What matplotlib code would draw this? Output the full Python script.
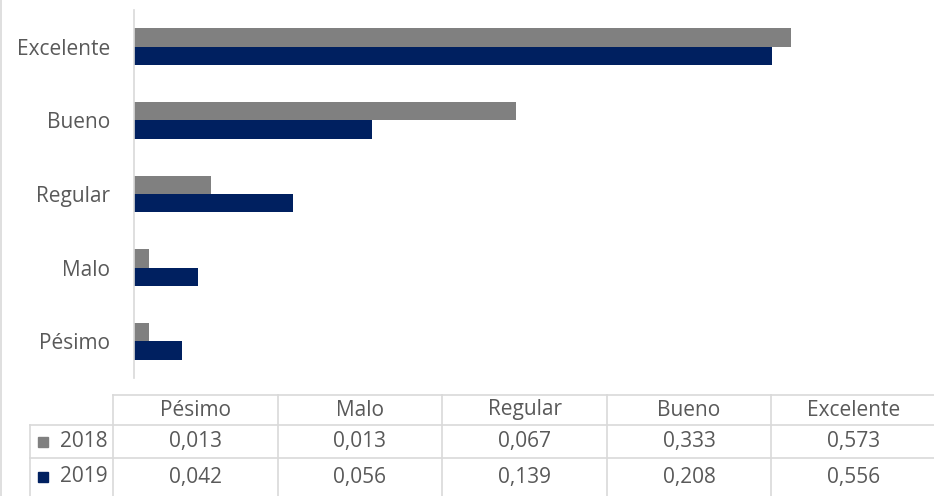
import matplotlib
matplotlib.use("Agg")
import matplotlib.pyplot as plt
from matplotlib.patches import Rectangle

categories = ["Pésimo", "Malo", "Regular", "Bueno", "Excelente"]
series_names = ["2018", "2019"]
values_2018 = [0.013, 0.013, 0.067, 0.333, 0.573]
values_2019 = [0.042, 0.056, 0.139, 0.208, 0.556]
colors = ["#808080", "#002060"]

plt.rcParams['font.family'] = ['Open Sans', 'DejaVu Sans']
TXT = "#595959"
GRID = "#d9d9d9"
FS = 15

W, H = 934, 496
fig = plt.figure(figsize=(W / 100, H / 100), dpi=100)

# main bar axes (pixel layout)
x0, x1, y0, y1 = 134, 934, 10, 378
ax = fig.add_axes([x0 / W, (H - y1) / H, (x1 - x0) / W, (y1 - y0) / H])
bh = 0.25
pos = list(range(len(categories)))
ax.barh([p + bh / 2 for p in pos], values_2018, height=bh, color=colors[0])
ax.barh([p - bh / 2 for p in pos], values_2019, height=bh, color=colors[1])
ax.set_xlim(0, 800 / 1146.6)
ax.set_ylim(-0.5, len(categories) - 0.5)
ax.set_yticks(pos)
ax.set_yticklabels(categories, fontsize=FS, color=TXT)
ax.tick_params(axis='y', length=0, pad=17)
ax.set_xticks([])
for s in ["top", "right", "bottom"]:
    ax.spines[s].set_visible(False)
ax.spines["left"].set_color(GRID)
ax.spines["left"].set_linewidth(1.2)

# data table overlay in pixel coordinates
ov = fig.add_axes([0, 0, 1, 1])
ov.set_xlim(0, W)
ov.set_ylim(H, 0)
ov.axis("off")
ov.patch.set_alpha(0)

col_left = 113
col_w = 164.6
ncol = len(categories)
row_y = [395, 425, 458, 496]
lab_left = 30

def hl(y, xa, xb):
    ov.plot([xa, xb], [y, y], color=GRID, lw=1.2)

def vl(x, ya, yb):
    ov.plot([x, x], [ya, yb], color=GRID, lw=1.2)

hl(row_y[0], col_left, W)
hl(row_y[1], lab_left, W)
hl(row_y[2], lab_left, W)
for i in range(ncol):
    vl(col_left + i * col_w, row_y[0], H)
vl(lab_left, row_y[1], H)
vl(1, 0, H)

for i, c in enumerate(categories):
    ov.text(col_left + (i + 0.5) * col_w, (row_y[0] + row_y[1]) / 2, c,
            ha="center", va="center", fontsize=FS, color=TXT)

rows = [values_2018, values_2019]
for r, (name, vals) in enumerate(zip(series_names, rows)):
    yc = (row_y[r + 1] + row_y[r + 2]) / 2
    ov.add_patch(Rectangle((38, yc - 5), 10, 10, color=colors[r]))
    ov.text(108, yc, name, ha="right", va="center", fontsize=FS, color=TXT)
    for i, v in enumerate(vals):
        ov.text(col_left + (i + 0.5) * col_w, yc, f"{v:.3f}".replace(".", ","),
                ha="center", va="center", fontsize=FS, color=TXT)

fig.savefig("out.png", dpi=100, facecolor="white")
